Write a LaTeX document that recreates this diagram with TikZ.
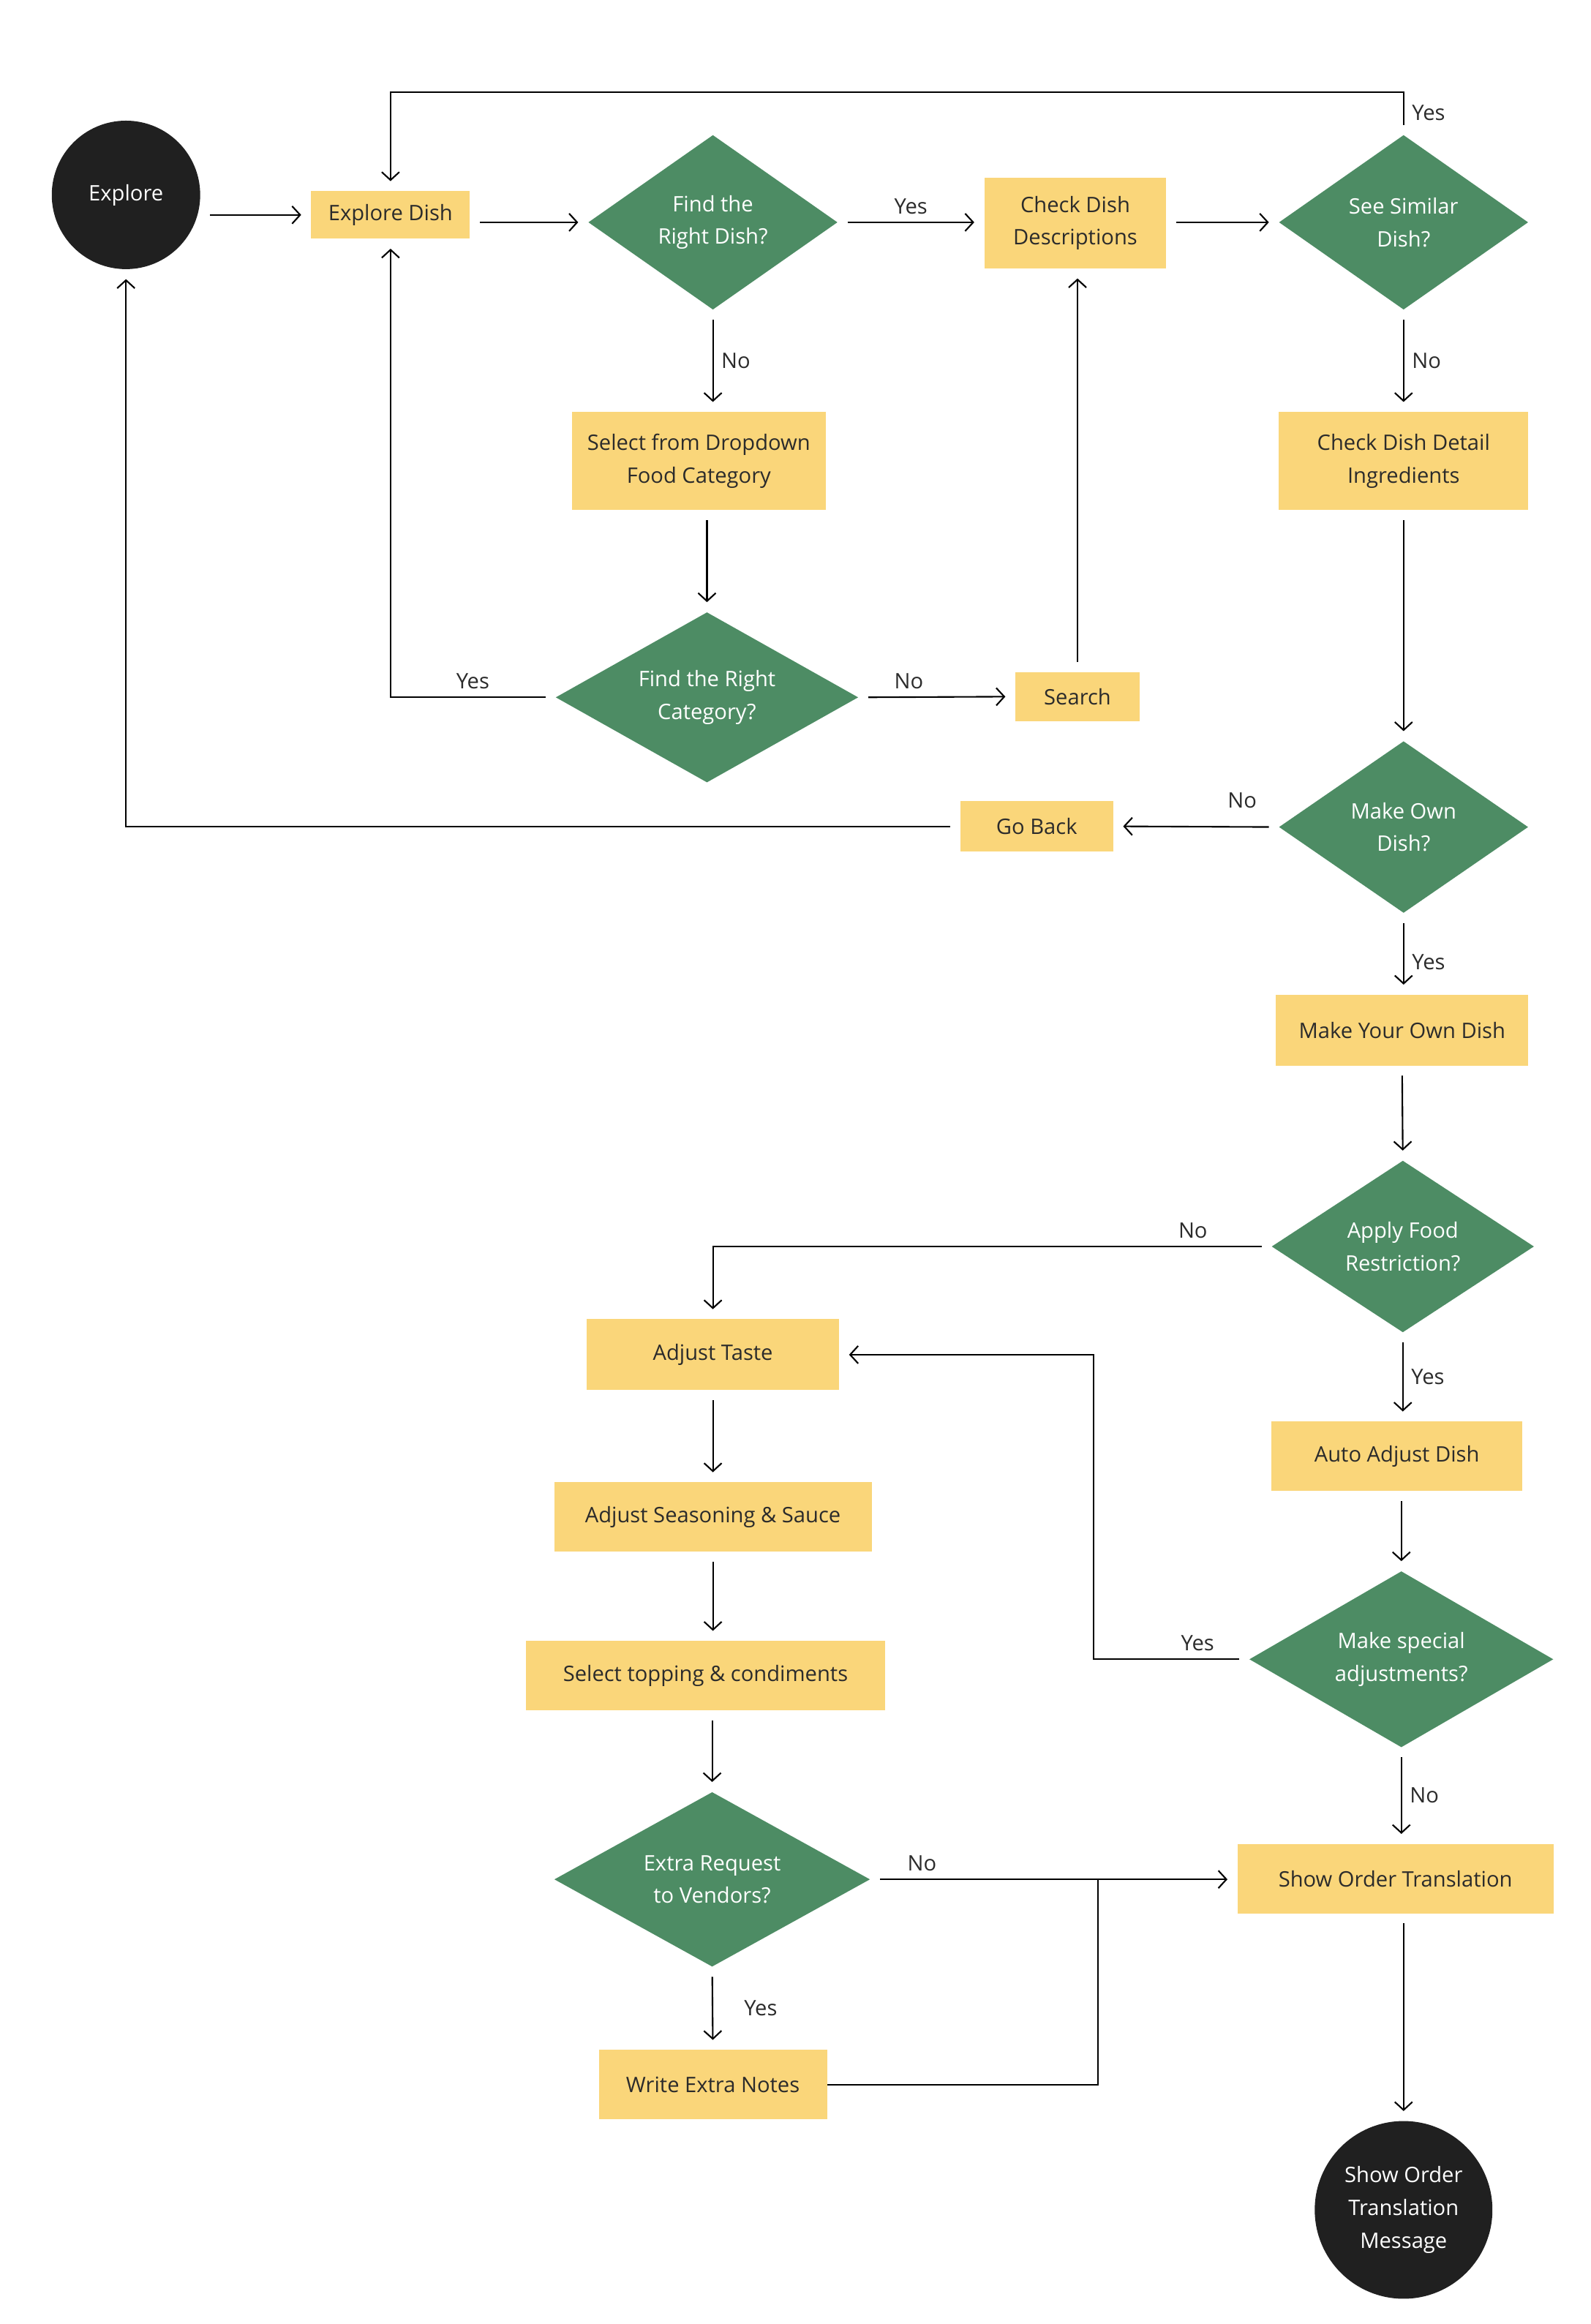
\documentclass[tikz,border=0pt]{standalone}
\usepackage{fontspec}
\setmainfont{Open Sans}
\usetikzlibrary{shapes.geometric, arrows.meta, positioning}

\definecolor{boxyellow}{HTML}{FAD67A}
\definecolor{decgreen}{HTML}{4D8C64}
\definecolor{termblack}{HTML}{202020}
\definecolor{txtdark}{HTML}{2B2B2B}

\tikzset{
    box/.style={rectangle, fill=boxyellow, text=txtdark, align=center, inner sep=0pt},
    decision/.style={diamond, fill=decgreen, text=white, align=center, inner sep=0pt, aspect=1.5},
    terminal/.style={circle, fill=termblack, text=white, align=center, inner sep=0pt},
    flow/.style={-{Straight Barb[length=1.1mm, width=2.4mm]}, line width=0.6pt, shorten <=1.3mm, shorten >=1.3mm},
    link/.style={line width=0.6pt},
    lbl/.style={text=txtdark, inner sep=3pt}
}

\begin{document}
\begin{tikzpicture}[x=0.2027mm, y=-0.2027mm, font=\fontsize{8.3}{12.7}\selectfont]
        \fill[white] (0,0) rectangle (1073,1568);

        % top row
        \node[terminal, minimum size=20.3mm] (explore) at (85,131.5) {Explore};
        \node[box, minimum width=21.7mm, minimum height=6.5mm] (edish) at (263.5,145) {Explore Dish};
        \node[decision, minimum width=34.1mm, minimum height=23.9mm] (find) at (481,150) {Find the\\Right Dish?};
        \node[box, minimum width=24.9mm, minimum height=12.4mm] (check) at (725.5,150.5) {Check Dish\\Descriptions};
        \node[decision, minimum width=34.1mm, minimum height=23.9mm] (similar) at (947,150) {See Similar\\Dish?};

        % category search
        \node[box, minimum width=34.7mm, minimum height=13.4mm] (dropdown) at (471.5,311) {Select from Dropdown\\Food Category};
        \node[decision, minimum width=41.4mm, minimum height=23.3mm] (category) at (477,470.5) {Find the Right\\Category?};
        \node[box, minimum width=17mm, minimum height=6.7mm] (search) at (727,470) {Search};
        \node[box, minimum width=34.1mm, minimum height=13.4mm] (ingred) at (947,311) {Check Dish Detail\\Ingredients};
        \node[decision, minimum width=34.1mm, minimum height=23.5mm] (makeown) at (947,558) {Make Own\\Dish?};
        \node[box, minimum width=20.9mm, minimum height=6.9mm] (goback) at (699.5,557.5) {Go Back};

        % own dish
        \node[box, minimum width=34.5mm, minimum height=9.7mm] (owndish) at (946,695) {Make Your Own Dish};
        \node[decision, minimum width=35.9mm, minimum height=23.5mm] (restrict) at (946.5,841) {Apply Food\\Restriction?};
        \node[box, minimum width=34.3mm, minimum height=9.5mm] (autoadj) at (942.5,982.5) {Auto Adjust Dish};
        \node[decision, minimum width=41.6mm, minimum height=24.1mm] (special) at (945.5,1119.5) {Make special\\adjustments?};
        \node[box, minimum width=43.2mm, minimum height=9.5mm] (showorder) at (941.5,1267.5) {Show Order Translation};
        \node[terminal, minimum size=24.3mm] (message) at (947,1491) {Show Order\\Translation\\Message};

        % adjustments
        \node[box, minimum width=34.5mm, minimum height=9.7mm] (taste) at (481,914) {Adjust Taste};
        \node[box, minimum width=43.4mm, minimum height=9.5mm] (season) at (481,1023.5) {Adjust Seasoning \& Sauce};
        \node[box, minimum width=49.1mm, minimum height=9.5mm] (topping) at (476,1130.5) {Select topping \& condiments};
        \node[decision, minimum width=43.2mm, minimum height=23.9mm] (extra) at (480.5,1268) {Extra Request\\to Vendors?};
        \node[box, minimum width=31.2mm, minimum height=9.5mm] (notes) at (481,1406.5) {Write Extra Notes};

        \coordinate (loopY) at (0,62);
        \coordinate (backX) at (738,0);
        \coordinate (merge) at (741,1268);

        \draw[flow] (explore.east |- edish.west) -- (edish.west);
        \draw[flow] (edish.east |- find.west) -- (find.west);
        \draw[flow] (find.east) -- node[lbl, above] {Yes} (check.west |- find.east);
        \draw[flow] (check.east |- similar.west) -- (similar.west);
        \draw[flow] (similar.north) -- node[lbl, right] {Yes} (similar.north |- loopY) -| (edish.north);
        \draw[flow] (similar.south) -- node[lbl, right] {No} (ingred.north);
        \draw[flow] (ingred.south) -- (makeown.north);
        \draw[flow] (makeown.west) -- node[lbl, above=4pt, pos=0.22] {No} (goback.east);
        \draw[flow] (goback.west) -| (explore.south);

        \draw[flow] (find.south) -- node[lbl, right] {No} (find.south |- dropdown.north);
        \draw[flow] (dropdown.south -| category.north) -- (category.north);
        \draw[flow] (category.west) -| node[lbl, above, pos=0.25] {Yes} (edish.south);
        \draw[flow] (category.east) -- node[lbl, above, pos=0.32] {No} (search.west);
        \draw[flow] (search.north) -- (search.north |- check.south);

        \draw[flow] (makeown.south) -- node[lbl, right, pos=0.6] {Yes} (makeown.south |- owndish.north);
        \draw[flow] (owndish.south) -- (restrict.north);
        \draw[flow] (restrict.west) -| node[lbl, above, pos=0.07] {No} (taste.north);
        \draw[flow] (restrict.south) -- node[lbl, right] {Yes} (restrict.south |- autoadj.north);
        \draw[flow] (autoadj.south -| special.north) -- (special.north);
        \draw[flow] (special.west) -- node[lbl, above, pos=0.33] {Yes} (special.west -| backX) |- (taste.east);
        \draw[flow] (special.south) -- node[lbl, right] {No} (special.south |- showorder.north);
        \draw[flow] (showorder.south -| message.north) -- (message.north);

        \draw[flow] (taste.south) -- (season.north);
        \draw[flow] (season.south) -- (season.south |- topping.north);
        \draw[flow] (topping.south -| extra.north) -- (extra.north);
        \draw[flow] (extra.east) -- node[lbl, above, pos=0.14] {No} (extra.east -| showorder.west);
        \draw[flow] (extra.south) -- node[lbl, right=9pt] {Yes} (notes.north);
        \draw[link] (notes.east) -| (merge);
    \end{tikzpicture}
\end{document}
